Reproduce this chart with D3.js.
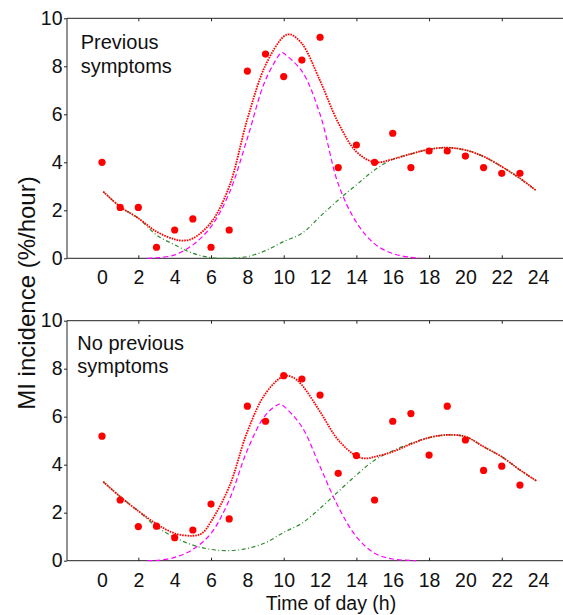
<!DOCTYPE html>
<html>
<head>
<meta charset="utf-8">
<script src="https://cdn.jsdelivr.net/npm/d3@7"></script>
<style>
  body { margin: 0; background: #fff; }
  text { font-family: "Liberation Sans", Arial, sans-serif; fill: #111; }
</style>
</head>
<body>
<svg id="chart"></svg>
<script>
const width = 563;
const height = 615;

// hourly observations (hour of day 0..23)
const hours = [0,1,2,3,4,5,6,7,8,9,10,11,12,13,14,15,16,17,18,19,20,21,22,23];
const prevObs = [4.0,2.12,2.12,0.46,1.18,1.64,0.46,1.18,7.8,8.51,7.57,8.26,9.21,3.78,4.72,4.0,5.21,3.78,4.47,4.47,4.26,3.78,3.54,3.54];
const noPrevObs = [5.19,2.53,1.42,1.44,0.96,1.28,2.36,1.74,6.44,5.81,7.71,7.57,6.9,3.64,4.38,2.53,5.81,6.13,4.4,6.44,5.03,3.76,3.94,3.15];

// fitted curves
const prevTotalH = [0.07,1,2,3,4,4.5,5,6,7,8,9,10,10.35,11,12,13,14,15,16,17,18,19,20,21,22,23,23.9];
const prevTotal = [2.78,2.15,1.67,1.11,0.79,0.74,0.83,1.49,2.99,5.8,8.05,9.24,9.33,8.95,7.4,5.65,4.44,4.0,4.13,4.35,4.54,4.61,4.51,4.24,3.82,3.33,2.82];
const prevPeakH = [2.5,3,4,5,6,7,8,9,9.9,10,11,12,13,14,15,16,17,17.5];
const prevPeak = [0,0.02,0.14,0.56,1.32,2.71,5.0,7.43,8.58,8.54,7.8,6.0,3.1,1.5,0.6,0.2,0.04,0];
const prevBaseH = [0.07,1,2,3,4,5,6,7,8,9,10,11,12,13,14,15,16,17,18,19,20,21,22,23,23.9];
const prevBase = [2.78,2.15,1.67,0.97,0.56,0.21,0.03,0,0.07,0.32,0.7,1.04,1.74,2.43,3.06,3.68,4.13,4.35,4.54,4.61,4.51,4.24,3.82,3.33,2.82];

const noPrevTotalH = [0.07,1,2,3,4,5,5.5,6,7,8,9,10,10.5,11,12,13,14,14.5,15,16,17,18,19,20,21,22,23,23.9];
const noPrevTotal = [3.29,2.67,2.07,1.53,1.14,1.04,1.14,1.63,3.08,5.38,6.97,7.69,7.64,7.32,6.21,5.03,4.36,4.26,4.33,4.54,4.86,5.13,5.24,5.17,4.75,4.33,3.78,3.33];
const noPrevPeakH = [2.5,3,4,5,6,7,8,9,9.8,10,11,12,13,14,15,16,17,17.3];
const noPrevPeak = [0,0.01,0.14,0.47,1.14,2.53,4.61,6.07,6.53,6.44,5.58,3.92,2.25,1.0,0.31,0.07,0.01,0];
const noPrevBaseH = [0.07,1,2,3,4,5,6,7,8,9,10,11,12,13,14,15,16,17,18,19,20,21,22,23,23.9];
const noPrevBase = [3.29,2.67,2.07,1.42,0.97,0.65,0.47,0.42,0.51,0.75,1.18,1.56,2.18,2.88,3.57,4.19,4.58,4.89,5.13,5.24,5.17,4.75,4.33,3.78,3.33];

// axis ticks
const xLabels = [0,2,4,6,8,10,12,14,16,18,20,22,24];
const xMarks = [2,6,10,14,18,22];
const yTicks = [0,2,4,6,8,10];

const panels = [
  { lines: ["Previous", "symptoms"], textX: 80.7, textY: 49.3, top: 18.3,
    obs: prevObs, total: [prevTotalH, prevTotal], peak: [prevPeakH, prevPeak], base: [prevBaseH, prevBase] },
  { lines: ["No previous", "symptoms"], textX: 77.3, textY: 350, top: 320.7,
    obs: noPrevObs, total: [noPrevTotalH, noPrevTotal], peak: [noPrevPeakH, noPrevPeak], base: [noPrevBaseH, noPrevBase] }
];

const frameLeft = 67;
const frameRight = 600;
const panelH = 240;

const svg = d3.select("#chart")
  .attr("width", width)
  .attr("height", height);

svg.append("rect").attr("width", width).attr("height", height).attr("fill", "#fff");

const x = d3.scaleLinear().domain([0, 24]).range([102, 538.1]);

panels.forEach(p => {
  const y = d3.scaleLinear().domain([0, 10]).range([p.top + panelH, p.top]);
  const g = svg.append("g");

  // frame
  g.append("path")
    .attr("d", `M${frameRight},${p.top}H${frameLeft}V${p.top + panelH}H${frameRight}`)
    .attr("fill", "none")
    .attr("stroke", "#222")
    .attr("stroke-width", 1);

  // y axis
  const yAxis = g.append("g")
    .attr("transform", `translate(${frameLeft},0)`)
    .call(d3.axisLeft(y).tickValues(yTicks).tickSize(3).tickPadding(1.5));
  yAxis.select(".domain").remove();
  yAxis.selectAll("line").attr("stroke", "#222");
  yAxis.selectAll("text").style("font-size", "19.5px").attr("fill", "#111");

  // x labels
  const xAxis = g.append("g")
    .attr("transform", `translate(0,${p.top + panelH})`)
    .call(d3.axisBottom(x).tickValues(xLabels).tickSize(0).tickPadding(12.2));
  xAxis.select(".domain").remove();
  xAxis.selectAll("text").style("font-size", "19.5px").attr("fill", "#111");

  // inward tick marks, bottom and top
  const bt = g.append("g")
    .attr("transform", `translate(0,${p.top + panelH})`)
    .call(d3.axisTop(x).tickValues(xMarks).tickSize(3).tickFormat(""));
  const tt = g.append("g")
    .attr("transform", `translate(0,${p.top})`)
    .call(d3.axisBottom(x).tickValues(xMarks).tickSize(3).tickFormat(""));
  [bt, tt].forEach(a => {
    a.select(".domain").remove();
    a.selectAll("line").attr("stroke", "#222");
  });

  const line = d3.line()
    .x(d => x(d[0]))
    .y(d => y(d[1]))
    .curve(d3.curveCatmullRom.alpha(0.5));

  const pairs = s => s[0].map((h, i) => [h, s[1][i]]);

  // green baseline (dash-dot)
  g.append("path")
    .attr("d", line(pairs(p.base)))
    .attr("fill", "none")
    .attr("stroke", "#2e8b2e")
    .attr("stroke-width", 1.2)
    .attr("stroke-dasharray", "4,2.5,1,2.5");

  // magenta morning peak (dashed)
  g.append("path")
    .attr("d", line(pairs(p.peak)))
    .attr("fill", "none")
    .attr("stroke", "#ff00ff")
    .attr("stroke-width", 1.2)
    .attr("stroke-dasharray", "5,3");

  // red total fit (dotted)
  g.append("path")
    .attr("d", line(pairs(p.total)))
    .attr("fill", "none")
    .attr("stroke", "#ff0000")
    .attr("stroke-width", 1.8)
    .attr("stroke-dasharray", "1.6,1");

  // observations
  g.selectAll(".dot")
    .data(hours.map((h, i) => [h, p.obs[i]]))
    .enter()
    .append("circle")
    .attr("class", "dot")
    .attr("cx", d => x(d[0]))
    .attr("cy", d => y(d[1]))
    .attr("r", 3.6)
    .attr("fill", "#ff0000");

  // panel label
  const t = g.append("text")
    .attr("x", p.textX)
    .attr("y", p.textY)
    .style("font-size", "20px");
  p.lines.forEach((s, i) => {
    t.append("tspan").attr("x", p.textX).attr("dy", i === 0 ? 0 : 23.4).text(s);
  });
});

// axis titles
svg.append("text")
  .attr("x", 331)
  .attr("y", 609.5)
  .attr("text-anchor", "middle")
  .style("font-size", "19.5px")
  .text("Time of day (h)");

svg.append("text")
  .attr("transform", "translate(35,293) rotate(-90)")
  .attr("text-anchor", "middle")
  .style("font-size", "24px")
  .text("MI incidence (%/hour)");
</script>
</body>
</html>
